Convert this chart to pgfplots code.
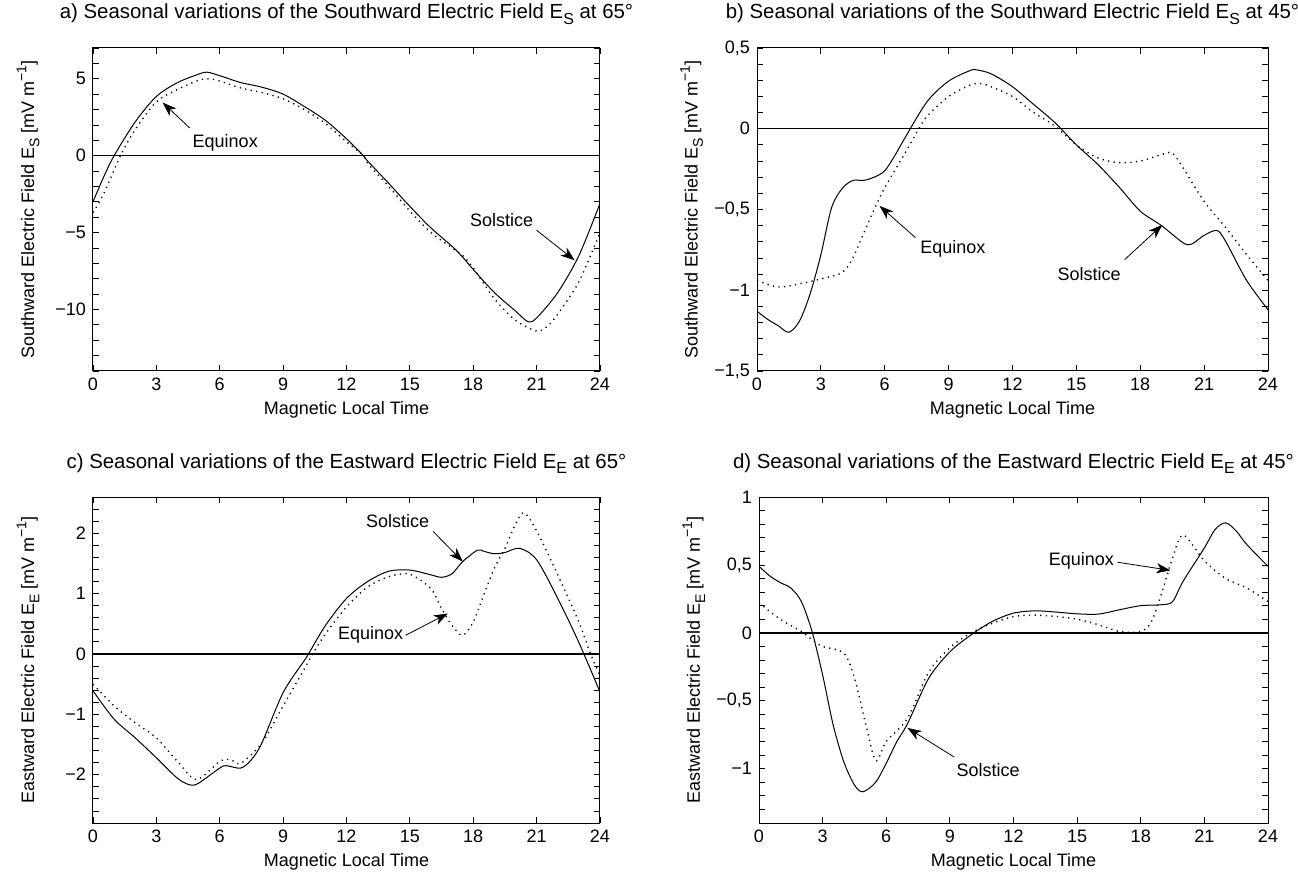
\documentclass[border=0pt]{standalone}
\usepackage{pgfplots}
\pgfplotsset{compat=1.18}
\usepackage{fontspec}
\setmainfont{Liberation Sans}
\usetikzlibrary{arrows.meta}
\newcommand{\sub}[1]{\raisebox{-0.55ex}{\fontsize{7}{8}\selectfont #1}}
\newcommand{\subt}[1]{\raisebox{-0.55ex}{\fontsize{8}{9}\selectfont #1}}
\newcommand{\unitlab}{[mV m\raisebox{0.8ex}{\fontsize{7}{8}\selectfont −1}]}

\tikzset{arr/.style={-{Stealth[length=7pt,width=5pt,inset=2pt]}, line width=0.4pt}}
\pgfplotsset{
  every axis title/.style={at={(axis description cs:0.5,1)},anchor=base,yshift=14.5pt,
     font=\fontsize{10.2}{12}\selectfont},
  panel/.style={
    scale only axis,
    xmin=0,xmax=24, xtick={0,3,...,24},
    tick align=inside, xtick pos=both, ytick pos=both,
    major tick length=3pt, minor tick length=3pt,
    tick style={black, line width=0.4pt},
    axis line style={line width=0.5pt},
    font=\fontsize{9}{10.8}\selectfont,
    ticklabel style={font=\fontsize{9}{10.8}\selectfont},
    /pgf/number format/assume math mode=true,
    xlabel={Magnetic Local Time},
    xlabel style={at={(axis description cs:0.5,-0.12)},anchor=center},
    ylabel style={at={(axis description cs:-0.128,0.5)},anchor=center},
    anchor=south west, clip=true,
  },
  sol/.style={black, line width=0.5pt, smooth},
  equ/.style={black, line width=0.7pt, dash pattern=on 0.6pt off 2.2pt, smooth},
  zero/.style={black, line width=0.7pt},
}

\begin{document}
\begin{tikzpicture}
\path[use as bounding box] (0,0) rectangle (649pt,437.5pt);

% ---------------- a ----------------
\begin{axis}[panel, at={(46.5pt,252pt)}, width=253.5pt, height=161.5pt,
  ymin=-14, ymax=7, ytick={-10,-5,0,5}, yticklabels={−10,−5,0,5},
  minor ytick={-14,-13,...,7},
  title={a) Seasonal variations of the Southward Electric Field E\subt{S} at 65°},
  ylabel={Southward Electric Field E\sub{S} \unitlab}]
\addplot[zero] coordinates {(0,0) (24,0)};
\addplot[sol] coordinates {
(0,-3.0) (0.5,-1.4) (1,0) (2,2.2) (3,3.85) (4,4.75) (5,5.3) (5.4,5.43) (6,5.2) (7,4.75) (8,4.45)
(9,4.0) (10,3.2) (11,2.3) (12,1.1) (12.8,0) (13,-0.35) (14,-1.8) (15,-3.3) (16,-4.7)
(17,-5.9) (17.5,-6.6) (18,-7.4) (19,-8.9) (20,-10.1) (20.6,-10.8) (21,-10.55) (22,-8.9)
(23,-6.5) (24,-3.1)};
\addplot[equ] coordinates {
(0,-3.7) (0.5,-2.5) (1.3,0) (2,1.7) (3,3.5) (4,4.3) (5,4.9) (5.5,5.0) (6,4.85) (7,4.4) (8,4.1)
(9,3.7) (10,3.0) (11,2.1) (12,0.9) (12.8,0) (13,-0.5) (14,-2.0) (15,-3.6) (16,-5.0)
(17,-6.0) (17.5,-6.5) (18,-7.3) (19,-9.3) (20,-10.7) (21,-11.4) (21.5,-11.1) (22,-10.3)
(23,-8.2) (24,-5.0)};
\node at (axis cs:6.26,0.86) {Equinox};
\draw[arr] (axis cs:4.58,1.8) -- (axis cs:3.3,3.45);
\node at (axis cs:19.34,-4.2) {Solstice};
\draw[arr] (axis cs:21.0,-4.85) -- (axis cs:22.8,-6.8);
\end{axis}

% ---------------- b ----------------
\begin{axis}[panel, at={(378.5pt,252pt)}, width=255.5pt, height=161.5pt,
  ymin=-1.5, ymax=0.5, ytick={-1.5,-1,-0.5,0,0.5}, yticklabels={{−1,5},{−1},{−0,5},0,{0,5}},
  minor ytick={-1.4,-1.3,-1.2,-1.1,-0.9,-0.8,-0.7,-0.6,-0.4,-0.3,-0.2,-0.1,0.1,0.2,0.3,0.4},
  title={b) Seasonal variations of the Southward Electric Field E\subt{S} at 45°},
  ylabel={Southward Electric Field E\sub{S} \unitlab}]
\addplot[zero] coordinates {(0,0) (24,0)};
\addplot[sol] coordinates {
(0,-1.13) (0.5,-1.18) (1,-1.22) (1.5,-1.26) (2,-1.19) (2.5,-1.02) (3,-0.78) (3.5,-0.49)
(4,-0.37) (4.5,-0.32) (5,-0.32) (5.5,-0.30) (6,-0.26) (6.5,-0.16) (7,-0.045) (8,0.17)
(9,0.295) (10,0.36) (10.3,0.365) (11,0.34) (12,0.26) (13,0.15) (14,0.037) (15,-0.1)
(16,-0.22) (17,-0.36) (18,-0.51) (19,-0.6) (20,-0.705) (20.4,-0.715) (21,-0.66)
(21.6,-0.63) (22,-0.695) (23,-0.94) (24,-1.12)};
\addplot[equ] coordinates {
(0,-0.94) (1,-0.98) (2,-0.96) (3,-0.93) (4,-0.89) (4.5,-0.8) (5,-0.65) (5.5,-0.5) (6,-0.365)
(7,-0.14) (7.6,0) (8,0.08) (9,0.2) (10,0.27) (10.5,0.28) (11,0.26) (12,0.2) (13,0.1)
(14,0.016) (15,-0.1) (16,-0.18) (17,-0.21) (18,-0.2) (19,-0.16) (19.5,-0.15) (20,-0.24)
(21,-0.45) (22,-0.61) (23,-0.78) (24,-0.94)};
\node at (axis cs:9.2,-0.746) {Equinox};
\draw[arr] (axis cs:7.44,-0.674) -- (axis cs:5.76,-0.478);
\node at (axis cs:15.6,-0.9) {Solstice};
\draw[arr] (axis cs:17.27,-0.81) -- (axis cs:19.04,-0.595);
\end{axis}

% ---------------- c ----------------
\begin{axis}[panel, at={(46.5pt,26pt)}, width=253.5pt, height=163pt,
  ymin=-2.8, ymax=2.6, ytick={-2,-1,0,1,2}, yticklabels={−2,−1,0,1,2},
  minor ytick={-2.8,-2.6,-2.4,-2.2,-1.8,-1.6,-1.4,-1.2,-0.8,-0.6,-0.4,-0.2,0.2,0.4,0.6,0.8,1.2,1.4,1.6,1.8,2.2,2.4,2.6},
  title={c) Seasonal variations of the Eastward Electric Field E\subt{E} at 65°},
  ylabel={Eastward Electric Field E\sub{E} \unitlab}]
\addplot[zero] coordinates {(0,0) (24,0)};
\addplot[sol] coordinates {
(0,-0.61) (1,-1.08) (2,-1.39) (3,-1.72) (4,-2.06) (4.6,-2.17) (5,-2.14) (6,-1.89) (6.3,-1.85)
(7,-1.89) (7.5,-1.75) (8,-1.47) (9,-0.64) (10,-0.11) (10.2,0) (11,0.47) (12,0.92) (13,1.2)
(14,1.37) (15,1.39) (16,1.31) (16.5,1.27) (17,1.33) (17.5,1.53) (18.2,1.72) (18.5,1.70)
(19,1.66) (19.5,1.68) (20.2,1.75) (21,1.56) (22,0.92) (23,0.19) (24,-0.63)};
\addplot[equ] coordinates {
(0,-0.5) (1,-0.86) (2,-1.14) (3,-1.39) (4,-1.78) (4.9,-2.08) (6,-1.78) (6.5,-1.75) (7,-1.81)
(8,-1.47) (9,-0.86) (10,-0.25) (10.4,0) (11,0.33) (12,0.78) (13,1.11) (14,1.28) (15,1.32)
(16,1.08) (16.5,0.75) (17,0.47) (17.5,0.31) (18,0.53) (18.5,0.98) (19,1.42) (19.5,1.75)
(20,2.15) (20.4,2.34) (21,2.04) (22,1.31) (23,0.53) (23.5,0.05) (24,-0.36)};
\node at (axis cs:14.42,2.2) {Solstice};
\draw[arr] (axis cs:16.1,2.03) -- (axis cs:17.5,1.53);
\node at (axis cs:13.14,0.31) {Equinox};
\draw[arr] (axis cs:14.8,0.31) -- (axis cs:16.8,0.67);
\end{axis}

% ---------------- d ----------------
\begin{axis}[panel, at={(379.5pt,26pt)}, width=254.5pt, height=163pt,
  ymin=-1.4, ymax=1, ytick={-1,-0.5,0,0.5,1}, yticklabels={{−1},{−0,5},0,{0,5},1},
  minor ytick={-1.4,-1.3,-1.2,-1.1,-0.9,-0.8,-0.7,-0.6,-0.4,-0.3,-0.2,-0.1,0.1,0.2,0.3,0.4,0.6,0.7,0.8,0.9},
  title={d) Seasonal variations of the Eastward Electric Field E\subt{E} at 45°},
  ylabel={Eastward Electric Field E\sub{E} \unitlab}]
\addplot[zero] coordinates {(0,0) (24,0)};
\addplot[sol] coordinates {
(0,0.49) (0.5,0.42) (1,0.37) (1.5,0.33) (2,0.23) (2.5,0.01) (3,-0.31) (3.5,-0.68) (4,-0.95)
(4.5,-1.12) (4.9,-1.17) (5.5,-1.1) (6,-0.96) (6.5,-0.8) (7,-0.67) (8,-0.335) (9,-0.14)
(10,-0.015) (11,0.084) (12,0.145) (13,0.162) (14,0.153) (15,0.14) (16,0.138) (17,0.17)
(18,0.2) (19,0.207) (19.5,0.23) (20,0.38) (21,0.625) (21.5,0.76) (22,0.81) (22.5,0.75)
(23,0.65) (24,0.49)};
\addplot[equ] coordinates {
(0,0.22) (1,0.1) (2,0.01) (2.5,-0.05) (3,-0.1) (4,-0.15) (4.5,-0.33) (5,-0.65) (5.5,-0.94)
(6,-0.8) (7,-0.63) (8,-0.29) (9,-0.11) (10,0) (11,0.07) (12,0.12) (13,0.13) (14,0.12)
(15,0.1) (16,0.06) (17,0.01) (18,0.01) (18.5,0.08) (19,0.3) (19.5,0.55) (20,0.72) (21,0.53)
(22,0.4) (23,0.33) (24,0.23)};
\node at (axis cs:15.2,0.527) {Equinox};
\draw[arr] (axis cs:16.9,0.52) -- (axis cs:19.4,0.46);
\node at (axis cs:10.8,-1.01) {Solstice};
\draw[arr] (axis cs:9.2,-0.914) -- (axis cs:7.0,-0.70);
\end{axis}
\end{tikzpicture}
\end{document}
